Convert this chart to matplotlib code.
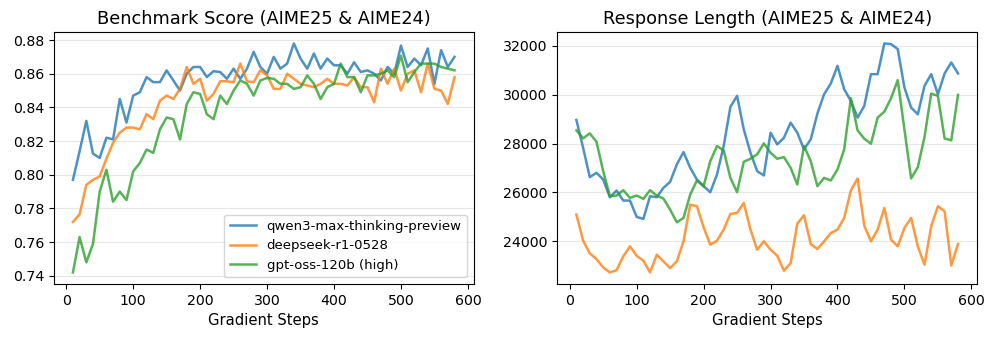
import numpy as np
import matplotlib
matplotlib.use("Agg")
import matplotlib.pyplot as plt

steps = list(range(10, 590, 10))

score_qwen = [0.797, 0.814, 0.832, 0.8125, 0.810, 0.822, 0.821, 0.845, 0.831, 0.847,
              0.849, 0.858, 0.855, 0.855, 0.862, 0.856, 0.850, 0.860, 0.864, 0.864,
              0.858, 0.8615, 0.861, 0.857, 0.863, 0.857, 0.863, 0.873, 0.864, 0.860,
              0.870, 0.863, 0.866, 0.878, 0.869, 0.863, 0.872, 0.863, 0.869, 0.865,
              0.865, 0.860, 0.8668, 0.861, 0.862, 0.860, 0.856, 0.864, 0.860, 0.8767,
              0.864, 0.869, 0.865, 0.875, 0.854, 0.874, 0.864, 0.870]
score_deepseek = [0.772, 0.7765, 0.794, 0.797, 0.799, 0.8095, 0.819, 0.825, 0.828, 0.828,
                  0.827, 0.836, 0.833, 0.844, 0.847, 0.845, 0.851, 0.864, 0.854, 0.857,
                  0.844, 0.848, 0.8555, 0.8555, 0.855, 0.866, 0.8555, 0.855, 0.862, 0.859,
                  0.851, 0.851, 0.860, 0.857, 0.854, 0.853, 0.852, 0.854, 0.857, 0.854,
                  0.854, 0.853, 0.858, 0.852, 0.852, 0.843, 0.863, 0.854, 0.863, 0.850,
                  0.860, 0.862, 0.849, 0.866, 0.851, 0.850, 0.842, 0.858]
score_gptoss = [0.742, 0.763, 0.748, 0.759, 0.790, 0.803, 0.784, 0.790, 0.785, 0.802,
                0.807, 0.815, 0.813, 0.827, 0.834, 0.833, 0.821, 0.842, 0.849, 0.848,
                0.836, 0.833, 0.847, 0.842, 0.850, 0.856, 0.854, 0.847, 0.856, 0.8575,
                0.857, 0.854, 0.854, 0.851, 0.852, 0.859, 0.854, 0.845, 0.852, 0.854,
                0.866, 0.858, 0.858, 0.849, 0.859, 0.859, 0.860, 0.862, 0.858, 0.8707,
                0.855, 0.861, 0.866, 0.866, 0.866, 0.864, 0.863, 0.862]

len_qwen = [28964, 27829, 26626, 26803, 26530, 25805, 26079, 25669, 25669, 25000,
            24917, 25846, 25805, 26188, 26434, 27145, 27651, 27009, 26530, 26257,
            26010, 26735, 27897, 29497, 29949, 28581, 27624, 26872, 26694, 28444,
            27966, 28239, 28855, 28444, 27761, 28171, 29224, 30017, 30455, 31180,
            30222, 29744, 29060, 29539, 30838, 30838, 32096, 32068, 31863, 30291,
            29470, 29197, 30359, 30838, 30017, 30865, 31316, 30865]
len_deepseek = [25094, 24027, 23508, 23275, 22933, 22728, 22823, 23385, 23795, 23412,
                23207, 22728, 23453, 23180, 22906, 23180, 24000, 25504, 25436, 24575,
                23863, 24027, 24479, 25121, 25162, 25573, 24479, 23658, 24000, 23658,
                23412, 22797, 23111, 24725, 25067, 23891, 23686, 24000, 24342, 24479,
                24957, 26079, 26571, 24643, 24000, 24479, 25368, 24068, 23795, 24547,
                24957, 23795, 23043, 24616, 25436, 25231, 23016, 23891]
len_gptoss = [28540, 28212, 28417, 28075, 26872, 25846, 25873, 26092, 25778, 25873,
              25737, 26092, 25873, 25750, 25299, 24779, 24957, 25915, 26489, 26257,
              27282, 27897, 27720, 26598, 26010, 27255, 27378, 27556, 28007, 27624,
              27378, 27446, 27009, 26325, 27897, 27282, 26257, 26598, 26489, 26940,
              27761, 29853, 28540, 28198, 27993, 29060, 29306, 29853, 30592, 28581,
              26571, 27036, 28267, 30044, 29949, 28212, 28130, 29990]

labels = ["qwen3-max-thinking-preview", "deepseek-r1-0528", "gpt-oss-120b (high)"]
colors = ["tab:blue", "tab:orange", "tab:green"]

fig = plt.figure(figsize=(9.97, 3.4), dpi=100)
ax1 = fig.add_axes([0.054, 0.165, 0.421, 0.741])
ax2 = fig.add_axes([0.559, 0.165, 0.421, 0.741])

for ys, lab, c in zip([score_qwen, score_deepseek, score_gptoss], labels, colors):
    ax1.plot(steps, ys, color=c, lw=1.8, alpha=0.8, label=lab)
for ys, lab, c in zip([len_qwen, len_deepseek, len_gptoss], labels, colors):
    ax2.plot(steps, ys, color=c, lw=1.8, alpha=0.8, label=lab)

ax1.set_title("Benchmark Score (AIME25 & AIME24)", fontsize=12.8)
ax2.set_title("Response Length (AIME25 & AIME24)", fontsize=12.8)
for ax in (ax1, ax2):
    ax.set_xlabel("Gradient Steps", fontsize=10.6)
    ax.tick_params(labelsize=10.2)
    ax.grid(axis="y", alpha=0.3)
    ax.set_xticks([0, 100, 200, 300, 400, 500, 600])

ax1.set_yticks(np.arange(0.74, 0.8801, 0.02))
ax2.set_yticks([24000, 26000, 28000, 30000, 32000])
ax1.legend(loc="lower right", fontsize=9.5)

plt.savefig("out.png")
